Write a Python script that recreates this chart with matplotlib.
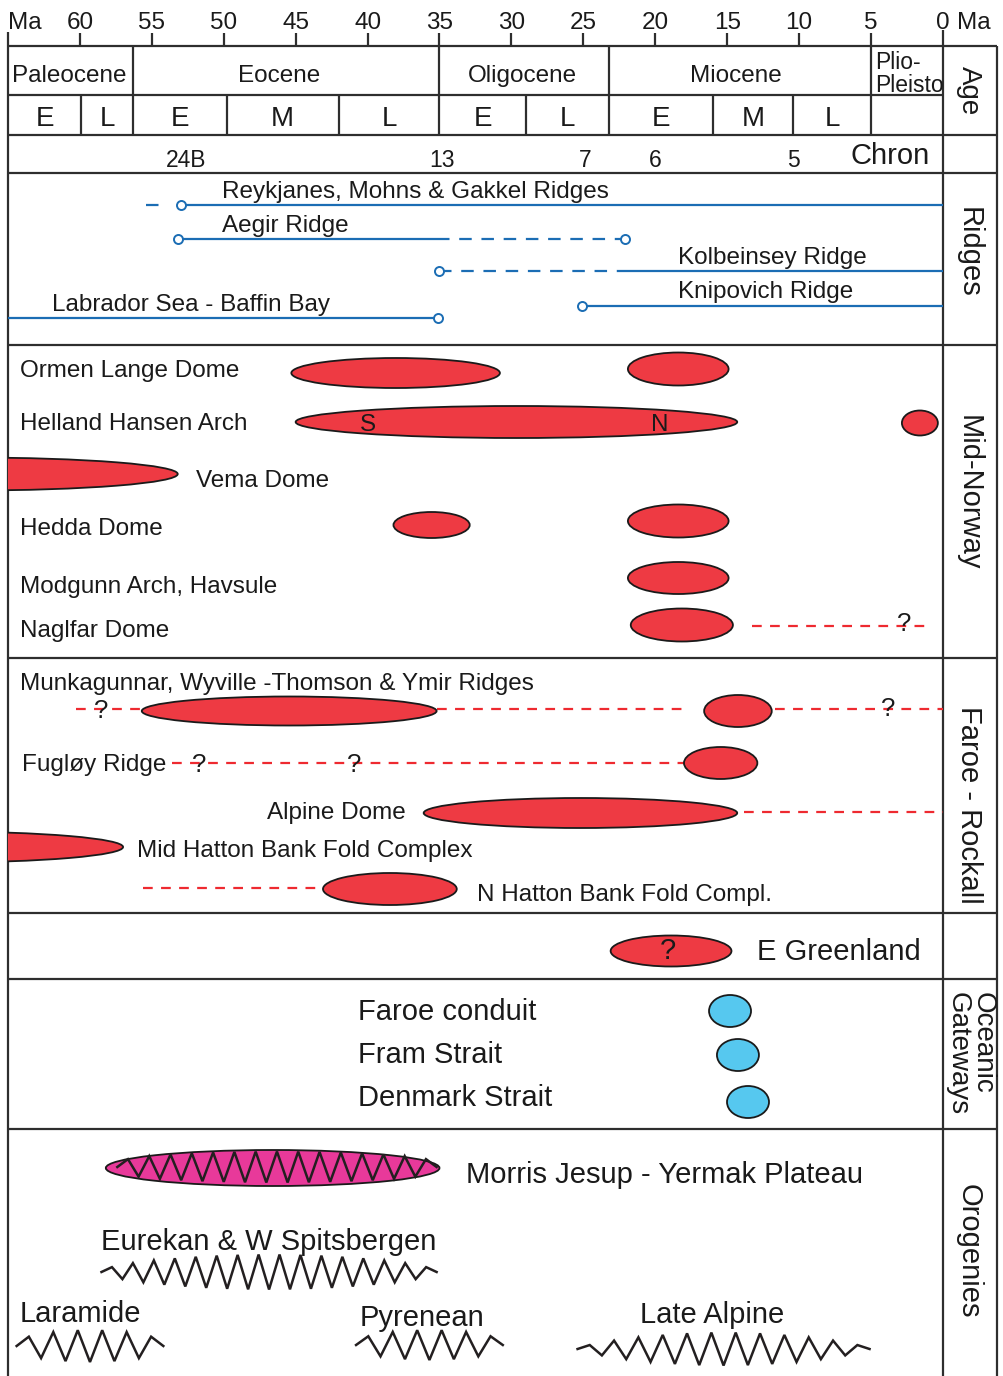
import numpy as np
import matplotlib
matplotlib.use("Agg")
import matplotlib.pyplot as plt
from matplotlib.patches import Ellipse, Rectangle

plt.rcParams['font.family'] = ['Liberation Sans', 'DejaVu Sans']
plt.rcParams['lines.scale_dashes'] = False

# ---------------- data (ages in Ma) ----------------
ma_ticks = [60, 55, 50, 45, 40, 35, 30, 25, 20, 15, 10, 5]
epoch_names = ['Paleocene', 'Eocene', 'Oligocene', 'Miocene']
epoch_label_ma = [60.76, 46.16, 29.26, 14.38]
epoch_bounds = [56.3, 35.0, 23.2, 5.0]
sub_bounds = [59.9, 49.8, 42.0, 29.0, 16.0, 10.4]
sub_start = [65.0, 59.9, 56.3, 49.8, 42.0, 35.0, 29.0, 23.2, 16.0, 10.4]
sub_end = [59.9, 56.3, 49.8, 42.0, 35.0, 29.0, 23.2, 16.0, 10.4, 5.0]
sub_labels = ['E', 'L', 'E', 'M', 'L', 'E', 'L', 'E', 'M', 'L']
chron_labels = ['24B', '13', '7', '6', '5']
chron_ma = [52.6, 34.8, 24.9, 20.0, 10.4]

# spreading ridges
ridge_names = ['Reykjanes, Mohns & Gakkel Ridges', 'Aegir Ridge', 'Kolbeinsey Ridge',
               'Knipovich Ridge', 'Labrador Sea - Baffin Bay']
ridge_label_ma = [50.12, 50.12, 18.42, 18.42, 61.94]
ridge_solid = [[(53.0, 0.0)], [(53.2, 35.2)], [(21.9, 0.0)], [(25.1, 0.0)], [(65.0, 35.1)]]
ridge_dashed = [[(55.4, 54.3)], [(35.2, 22.1)], [(35.0, 21.9)], [], []]
ridge_circles = [[53.0], [53.2, 22.1], [35.0], [25.1], [35.1]]

# compressional domes / inversion episodes
dome_names = ['Ormen Lange Dome', 'Helland Hansen Arch', 'Vema Dome', 'Hedda Dome',
              'Modgunn Arch, Havsule', 'Naglfar Dome',
              'Munkagunnar, Wyville -Thomson & Ymir Ridges', 'Fugløy Ridge', 'Alpine Dome',
              'Mid Hatton Bank Fold Complex', 'N Hatton Bank Fold Compl.', 'E Greenland']
dome_label_ma = [64.17, 64.17, 51.93, 64.17, 64.17, 64.17, 64.17, 64.03, 47.0, 56.03, 32.39, 12.92]
ep_start = [45.3, 21.9, 45.0, 2.85, 82.1, 38.2, 21.9, 21.9, 21.7, 55.7, 16.6, 18.0, 36.1, 82.4, 43.1, 23.1]
ep_end = [30.8, 14.9, 14.3, 0.35, 53.2, 32.9, 14.9, 14.9, 14.6, 35.2, 11.9, 12.9, 14.3, 57.0, 33.8, 14.7]
unc_start = [13.3, 60.3, 35.2, 11.7, 53.6, 13.8, 55.6]
unc_end = [0.8, 55.8, 17.9, 0.0, 17.9, 0.0, 43.1]
q_ma = [2.7, 58.5, 3.8, 51.7, 40.9, 19.1]
hh_letters = ['S', 'N']
hh_letter_ma = [40.0, 19.7]

# oceanic gateways
gate_names = ['Faroe conduit', 'Fram Strait', 'Denmark Strait']
gate_start = [16.26, 15.71, 15.01]
gate_end = [13.34, 12.79, 12.09]

# orogenies
orog_names = ['Morris Jesup - Yermak Plateau', 'Eurekan & W Spitsbergen', 'Laramide',
              'Pyrenean', 'Late Alpine']
orog_label_ma = [33.16, 58.53, 64.17, 40.53, 21.06]
orog_start = [57.4, 58.5, 64.4, 40.8, 25.4]
orog_end = [35.2, 35.2, 54.2, 30.6, 5.1]
orog_teeth = [15, 16, 6, 6, 12]
morris_start, morris_end = 58.2, 35.0

# ---------------- layout (vertical positions in px) ----------------
ridge_y = [205, 239, 271, 306, 318]
ridge_label_y = [189, 223, 255, 289, 302]
dome_label_y = [368, 421, 478, 526, 584, 628, 681, 762, 810, 848, 892, 950]
ep_y = [373, 369, 422, 423, 474, 525, 521, 578, 625, 711, 711, 763, 813, 847, 889, 951]
ep_h = [30, 33, 32, 25, 33, 26, 33, 32, 33, 29, 32, 32, 30, 31, 32, 31]
unc_y = [626, 709, 709, 709, 763, 812, 888]
q_y = [622, 709, 707, 763, 763, 949]
q_size = [18.5, 18.5, 18.5, 18.5, 18.5, 21]
gate_y = [1011, 1055, 1102]
gate_label_y = [1010, 1053, 1096]
orog_y = [1167, 1272, 1346, 1345, 1349]
orog_amp = [15.5, 17.5, 16, 15, 16.5]
orog_pow = [0.3, 0.55, 0.4, 0.4, 0.7]
orog_label_y = [1173, 1240, 1312, 1316, 1313]

PXMA = 14.383
def px2ma(px):
    return 65.0 - (px - 8) / PXMA

fig = plt.figure(figsize=(10.04, 13.76), dpi=100)
ax = fig.add_axes([0, 0, 1, 1])
ax.set_xlim(px2ma(0), px2ma(1004))
ax.set_ylim(1376, 0)
ax.axis('off')

PT = 100 / 72.0
INK = '#1a1a1a'
FR = '#2e2e2e'
RED = '#ee3a43'
RED_D = '#ee2a30'
BLUE = '#1b6db4'
LW = 1.6

def label(x, y, s, size=17.5, ha='left', color=INK, **kw):
    ax.text(x, y + 0.358 * size * PT, s, fontsize=size, ha=ha, va='baseline',
            color=color, **kw)

x_left, x_zero, x_right = px2ma(8), 0.0, px2ma(997)

# ---------------- frame ----------------
ax.hlines(46, x_left, x_right, color=FR, lw=LW)
ax.hlines(95, x_left, x_zero, color=FR, lw=LW)
for yy in [135, 173, 345, 658, 913, 979, 1129]:
    ax.hlines(yy, x_left, x_right, color=FR, lw=LW)
ax.vlines(x_left, 32, 1376, color=FR, lw=LW)
ax.vlines(x_zero, 30, 1376, color=FR, lw=LW)
ax.vlines(x_right, 46, 1376, color=FR, lw=LW)
ax.vlines(ma_ticks, 33, 46, color=FR, lw=LW)
ax.vlines(epoch_bounds, 46, 135, color=FR, lw=LW)
ax.vlines(sub_bounds, 94, 135, color=FR, lw=LW)

# tick labels
label(65.0, 20, 'Ma', 17.5)
for t in ma_ticks:
    label(t, 20, str(t), 17.5, ha='center')
label(0.0, 20, '0', 17.5, ha='center')
label(px2ma(957), 20, 'Ma', 17.5)

for name, xm in zip(epoch_names, epoch_label_ma):
    label(xm, 73, name, 17.5, ha='center')
label(px2ma(875), 61, 'Plio-', 16.5)
label(px2ma(875), 84, 'Pleisto', 16.5)
for s, a, b in zip(sub_labels, sub_start, sub_end):
    label((a + b) / 2, 116, s, 20, ha='center')
for s, xm in zip(chron_labels, chron_ma):
    label(xm, 159, s, 16.5, ha='center')
label(px2ma(890), 154, 'Chron', 21, ha='center')

# right-column section titles
xc = px2ma(969)
ax.text(xc, 91, 'Age', rotation=-90, ha='center', va='center', fontsize=20, color=INK)
ax.text(xc, 252, 'Ridges', rotation=-90, ha='center', va='center', fontsize=21, color=INK)
ax.text(xc, 493, 'Mid-Norway', rotation=-90, ha='center', va='center', fontsize=21, color=INK)
ax.text(xc, 805, 'Faroe - Rockall', rotation=-90, ha='center', va='center', fontsize=21, color=INK)
ax.text(px2ma(983), 992, 'Oceanic', rotation=-90, ha='center', va='top', fontsize=20, color=INK)
ax.text(px2ma(958), 992, 'Gateways', rotation=-90, ha='center', va='top', fontsize=20, color=INK)
ax.text(xc, 1251, 'Orogenies', rotation=-90, ha='center', va='center', fontsize=21, color=INK)

# ---------------- ridges ----------------
for i, name in enumerate(ridge_names):
    y = ridge_y[i]
    for a, b in ridge_solid[i]:
        ax.plot([a, b], [y, y], color=BLUE, lw=LW, solid_capstyle='butt', zorder=2)
    for a, b in ridge_dashed[i]:
        ax.plot([a, b], [y, y], color=BLUE, lw=LW, dashes=(9, 7), zorder=2)
    ax.plot(ridge_circles[i], [y] * len(ridge_circles[i]), 'o', ms=6.5, mfc='white',
            mec=BLUE, mew=1.4, zorder=3)
    label(ridge_label_ma[i], ridge_label_y[i], name, 17.5)

# ---------------- domes ----------------
clip = Rectangle((0, 0), 65, 1376, transform=ax.transData)
for a, b, y, h in zip(ep_start, ep_end, ep_y, ep_h):
    e = Ellipse(((a + b) / 2, y), width=a - b, height=h, facecolor=RED,
                edgecolor=INK, lw=1.3, zorder=4)
    ax.add_patch(e)
    e.set_clip_path(clip)
for a, b, y in zip(unc_start, unc_end, unc_y):
    ax.plot([a, b], [y, y], color=RED_D, lw=LW, dashes=(7, 6), zorder=2)
for xm, y, sz in zip(q_ma, q_y, q_size):
    label(xm, y, '?', sz, ha='center', zorder=5)
for s, xm in zip(hh_letters, hh_letter_ma):
    label(xm, 422, s, 17.5, ha='center', zorder=5)
for name, xm, y in zip(dome_names, dome_label_ma, dome_label_y):
    label(xm, y, name, 21 if name == 'E Greenland' else 17.5)

# ---------------- gateways ----------------
for name, a, b, y, ly in zip(gate_names, gate_start, gate_end, gate_y, gate_label_y):
    ax.add_patch(Ellipse(((a + b) / 2, y), width=a - b, height=32, facecolor='#56c8ef',
                         edgecolor=INK, lw=1.3, zorder=4))
    label(px2ma(358), ly, name, 21)

# ---------------- orogenies ----------------
ax.add_patch(Ellipse(((morris_start + morris_end) / 2, 1168), width=morris_start - morris_end,
                     height=36, facecolor='#e8399a', edgecolor=INK, lw=1.3, zorder=3))
for i, name in enumerate(orog_names):
    n = orog_teeth[i]
    k = 2 * n + 1
    xs = np.linspace(orog_start[i], orog_end[i], k)
    t = np.linspace(0, 1, k)
    sign = np.where(np.arange(k) % 2 == 1, -1.0, 1.0)
    env = np.sin(np.pi * t) ** orog_pow[i]
    env[0] = env[-1] = 0.0
    ys = orog_y[i] + sign * orog_amp[i] * env
    ax.plot(xs, ys, color='#231f20', lw=1.8, solid_joinstyle='miter', zorder=5)
    label(orog_label_ma[i], orog_label_y[i], name, 21)

fig.savefig('out.png', dpi=100)
